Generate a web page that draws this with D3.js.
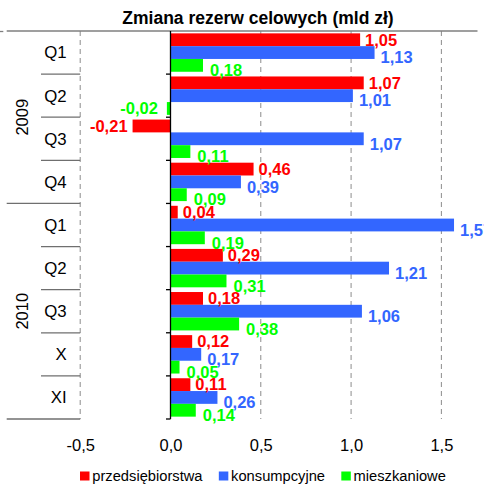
<!DOCTYPE html>
<html>
<head>
<meta charset="utf-8">
<script src="https://cdn.jsdelivr.net/npm/d3@7"></script>
<style>
  body { margin: 0; background: #fff; }
  svg { display: block; font-family: "Liberation Sans", Arial, sans-serif; }
</style>
</head>
<body>
<svg id="chart" width="484" height="486"></svg>
<script>
// Reporting periods (two-level category axis: year / quarter or month)
const years   = ["2009", "2009", "2009", "2009", "2010", "2010", "2010", "2010", "2010"];
const periods = ["Q1", "Q2", "Q3", "Q4", "Q1", "Q2", "Q3", "X", "XI"];

// Change of specific reserves, bn PLN
const seriesNames      = ["przedsiębiorstwa", "konsumpcyjne", "mieszkaniowe"];
const przedsiebiorstwa = [1.05, 1.07, -0.21, 0.46, 0.04, 0.29, 0.18, 0.12, 0.11];
const konsumpcyjne     = [1.13, 1.01, 1.07, 0.39, 1.57, 1.21, 1.06, 0.17, 0.26];
const mieszkaniowe     = [0.18, -0.02, 0.11, 0.09, 0.19, 0.31, 0.38, 0.05, 0.14];

const xTicks  = [-0.5, 0.0, 0.5, 1.0, 1.5];
const xDomain = [-0.5, 1.7];
const title   = "Zmiana rezerw celowych (mld zł)";

const seriesValues = [przedsiebiorstwa, konsumpcyjne, mieszkaniowe];
const colors = ["#ff0000", "#3366ff", "#00ff00"];

const pl = d3.formatLocale({ decimal: ",", thousands: " ", grouping: [3], currency: ["", " zł"], minus: "-" });
const fmtVal  = pl.format(".2f");
const fmtTick = pl.format(".1f");

const svg = d3.select("#chart");
const keys = periods.map((p, i) => years[i] + " " + p);

const plotTop = 31, plotBottom = 419;
const x = d3.scaleLinear().domain(xDomain).range([80.2, 477.5]);
const y = d3.scaleBand().domain(keys).range([plotTop, plotBottom]).padding(0);
const ys = d3.scaleBand().domain(seriesNames).range([0, y.bandwidth()])
  .paddingInner(0).paddingOuter(0.184);

// title
svg.append("text")
  .attr("x", 258).attr("y", 24)
  .attr("text-anchor", "middle")
  .attr("font-weight", "bold").attr("font-size", 17.5)
  .attr("fill", "#000")
  .text(title);

// dashed vertical gridlines (zero is drawn as the solid axis)
svg.append("g").selectAll("line")
  .data(xTicks.filter(t => t !== 0))
  .join("line")
  .attr("x1", d => x(d)).attr("x2", d => x(d))
  .attr("y1", plotTop).attr("y2", plotBottom)
  .attr("stroke", "#8c8c8c").attr("stroke-width", 1)
  .attr("stroke-dasharray", "5,4");

// top border across labels and plot
svg.append("line")
  .attr("x1", 6.7).attr("x2", x(xDomain[1]))
  .attr("y1", plotTop).attr("y2", plotTop)
  .attr("stroke", "#7f7f7f").attr("stroke-width", 1.3);
svg.append("line")
  .attr("x1", 0).attr("x2", 3.3)
  .attr("y1", plotTop + 0.5).attr("y2", plotTop + 0.5)
  .attr("stroke", "#7f7f7f").attr("stroke-width", 1.3);

// bars
const barG = svg.append("g");
seriesNames.forEach((name, s) => {
  barG.append("g").selectAll("rect")
    .data(seriesValues[s].map((v, i) => ({ v, key: keys[i] })))
    .join("rect")
    .attr("x", d => x(Math.min(0, d.v)))
    .attr("width", d => Math.abs(x(d.v) - x(0)))
    .attr("y", d => y(d.key) + ys(name))
    .attr("height", ys.bandwidth())
    .attr("fill", colors[s]);
});

// category axis at zero with tick marks at band boundaries
svg.append("line")
  .attr("x1", x(0)).attr("x2", x(0))
  .attr("y1", plotTop).attr("y2", plotBottom)
  .attr("stroke", "#000").attr("stroke-width", 1.3);
const boundaries = keys.slice(1).map(k => y(k)).concat([plotBottom]);
svg.append("g").selectAll("line")
  .data(boundaries)
  .join("line")
  .attr("x1", x(0) - 4.5).attr("x2", x(0))
  .attr("y1", d => d).attr("y2", d => d)
  .attr("stroke", "#000").attr("stroke-width", 1.3);

// two-level category labels on the left
const labelRight = x(xDomain[0]);
const divG = svg.append("g");
keys.forEach((k, i) => {
  const yb = y(k) + y.bandwidth();
  const yearEnd = i === keys.length - 1 || years[i + 1] !== years[i];
  divG.append("line")
    .attr("x1", yearEnd ? 6.7 : 41).attr("x2", labelRight)
    .attr("y1", yb).attr("y2", yb)
    .attr("stroke", "#6f6f6f").attr("stroke-width", 1.3);
});
svg.append("g").selectAll("text")
  .data(keys)
  .join("text")
  .attr("x", 66.7)
  .attr("y", d => y(d) + y.bandwidth() / 2)
  .attr("dy", "0.35em")
  .attr("text-anchor", "end")
  .attr("font-size", 16.8)
  .attr("fill", "#000")
  .text((d, i) => periods[i]);

const yearGroups = d3.groups(keys.map((k, i) => ({ k, yr: years[i] })), d => d.yr);
svg.append("g").selectAll("text")
  .data(yearGroups)
  .join("text")
  .attr("transform", ([yr, items]) => {
    const y0 = y(items[0].k), y1 = y(items[items.length - 1].k) + y.bandwidth();
    return `translate(22,${(y0 + y1) / 2}) rotate(-90)`;
  })
  .attr("dy", "0.35em")
  .attr("text-anchor", "middle")
  .attr("font-size", 16.5)
  .attr("fill", "#000")
  .text(([yr]) => yr);

// value labels
const labelGap = [5, 6, 7];
const labelDrop = [0, 5, 5];
const lblG = svg.append("g");
seriesNames.forEach((name, s) => {
  lblG.append("g").selectAll("text")
    .data(seriesValues[s].map((v, i) => ({ v, key: keys[i] })))
    .join("text")
    .attr("x", d => d.v >= 0 ? x(d.v) + labelGap[s] : x(d.v) - 5 - (s === 2 ? 4 : 0))
    .attr("y", d => y(d.key) + ys(name) + ys.bandwidth() / 2 + (d.v >= 0 ? labelDrop[s] : 0))
    .attr("dy", "0.35em")
    .attr("text-anchor", d => d.v >= 0 ? "start" : "end")
    .attr("font-weight", "bold")
    .attr("font-size", 16.5)
    .attr("fill", colors[s])
    .text(d => fmtVal(d.v));
});

// value axis labels
const axis = d3.axisBottom(x).tickValues(xTicks).tickSize(0).tickPadding(20.3).tickFormat(fmtTick);
const axG = svg.append("g").attr("transform", `translate(0,${plotBottom})`).call(axis);
axG.select(".domain").remove();
axG.selectAll("text")
  .attr("font-size", 16.5)
  .attr("font-family", "'Liberation Sans', Arial, sans-serif")
  .attr("fill", "#000");

// legend
const legend = svg.append("g");
let lx = 80;
seriesNames.forEach((name, s) => {
  legend.append("rect")
    .attr("x", lx).attr("y", 471.5)
    .attr("width", 9.5).attr("height", 9)
    .attr("fill", colors[s]);
  const t = legend.append("text")
    .attr("x", lx + 12.3).attr("y", 480.7)
    .attr("font-size", 14.7)
    .attr("fill", "#000")
    .text(name);
  lx += 12.3 + t.node().getComputedTextLength() + 16.3;
});
</script>
</body>
</html>
